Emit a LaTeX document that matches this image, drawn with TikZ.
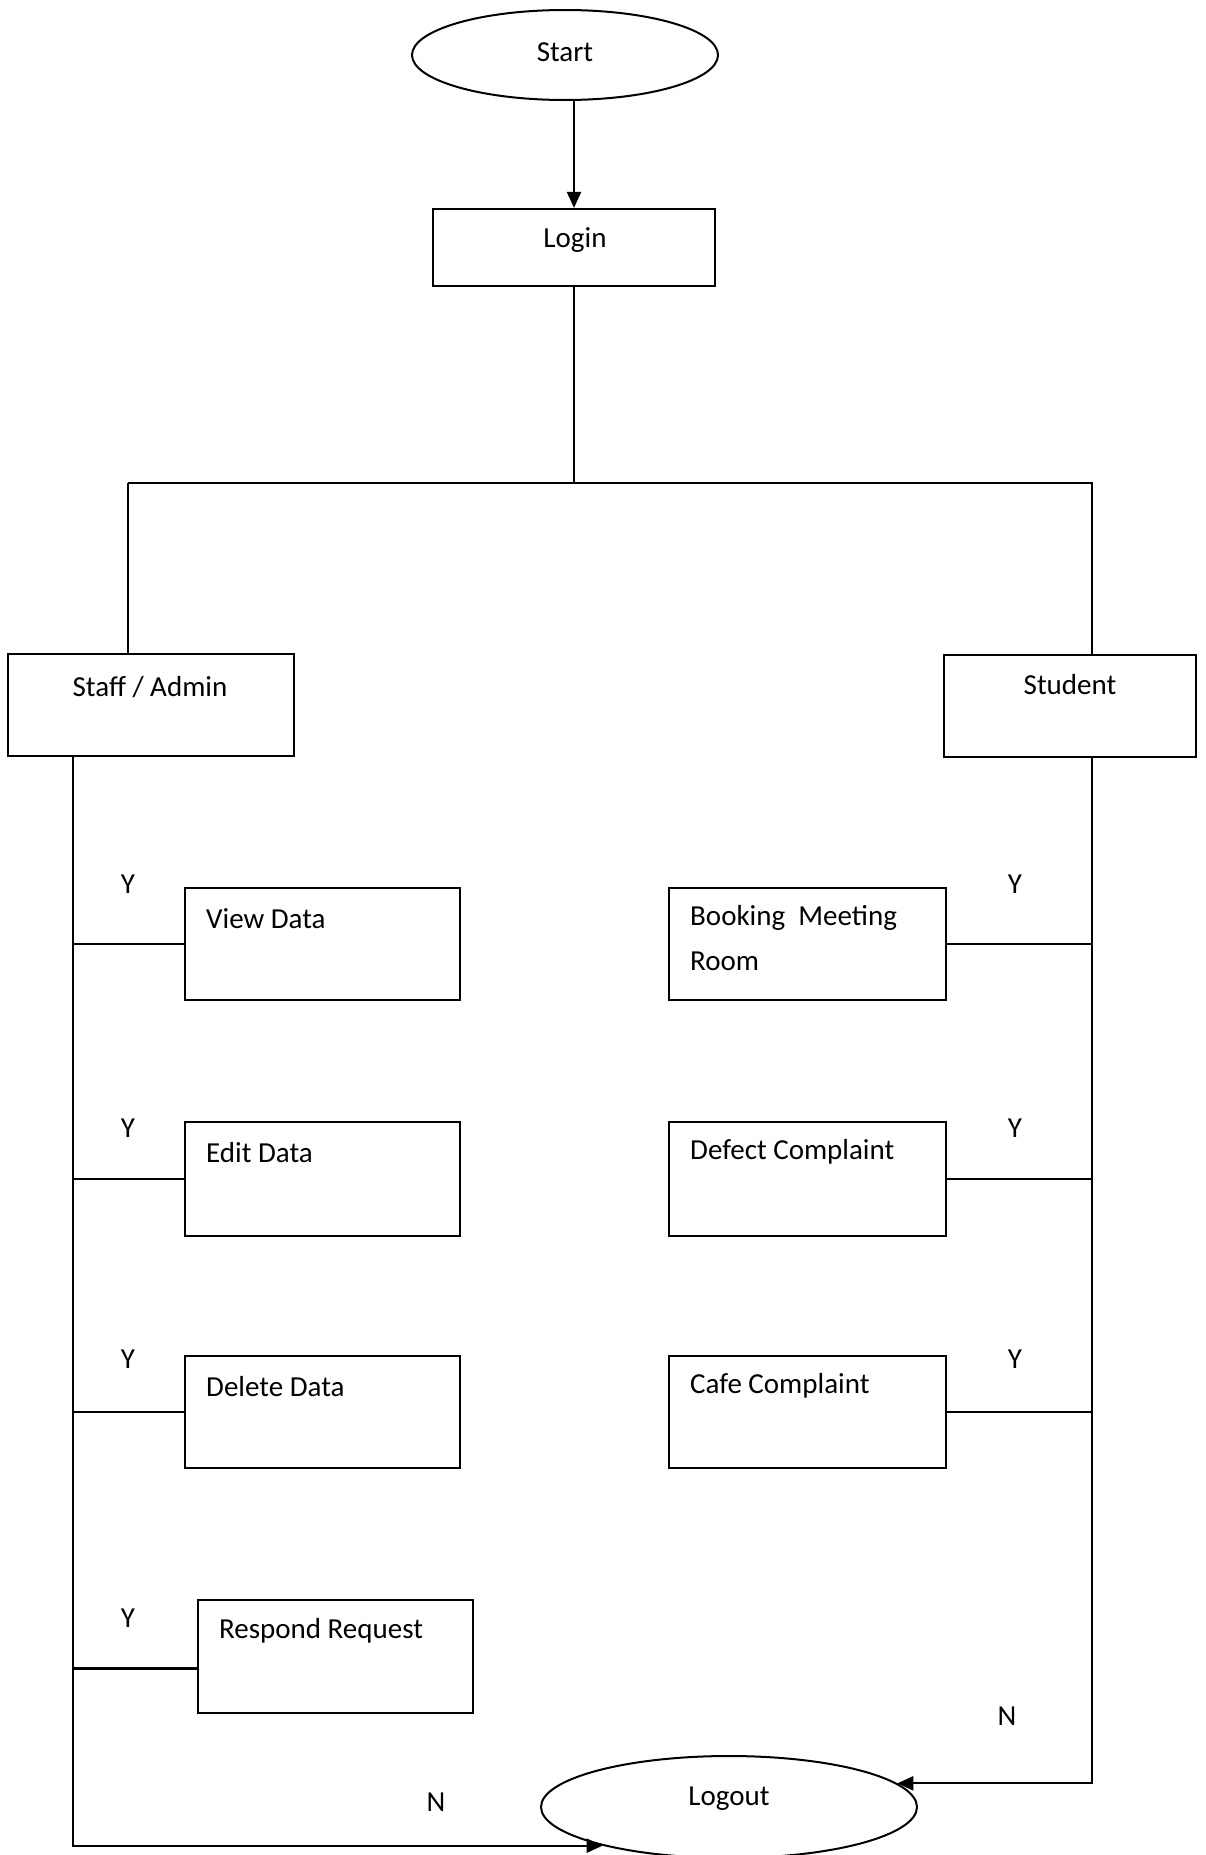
\documentclass[tikz,border=0pt]{standalone}
\usepackage{fontspec}
\setmainfont{Carlito}
\usetikzlibrary{arrows.meta,shapes.geometric}

\tikzset{
  flow/.style={line width=2.2pt, black},
  arr/.style={flow, -{Triangle[length=16pt,width=14pt]}},
  term/.style={draw, line width=2pt, ellipse, inner sep=0pt},
  box/.style={draw, line width=2.2pt, rectangle, inner sep=0pt},
  txt/.style={inner sep=0pt, font=\fontsize{29}{36}\selectfont},
  ltxt/.style={txt, anchor=west, align=left},
  yn/.style={txt}
}

\begin{document}
\begin{tikzpicture}[x=1pt, y=-1pt]
  \useasboundingbox (0,0) rectangle (1206,1855);
  \clip (0,0) rectangle (1206,1855);

  % terminators
  \node[term, minimum width=306, minimum height=90] (start) at (565,55) {};
  \node[txt] (startT) at (565,52) {Start};
  \node[term, minimum width=376, minimum height=102] (logout) at (729,1807) {};
  \node[txt] (logoutT) at (729,1799) {Logout};

  % login and the two user roles
  \node[box, minimum width=282, minimum height=77] (login) at (574,247.5) {};
  \node[txt] (loginT) at (575,240) {Login};
  \node[box, minimum width=286, minimum height=102] (staff) at (151,705) {};
  \node[txt] (staffT) at (150,687) {Staff / Admin};
  \node[box, minimum width=252, minimum height=102] (student) at (1070,706) {};
  \node[txt] (studentT) at (1070,685) {Student};

  % staff / admin actions
  \node[box, minimum width=275, minimum height=112] (view) at (322.5,944) {};
  \node[ltxt] (viewT) at (206,919) {View Data};
  \node[box, minimum width=275, minimum height=114] (edit) at (322.5,1179) {};
  \node[ltxt] (editT) at (206,1153) {Edit Data};
  \node[box, minimum width=275, minimum height=112] (delete) at (322.5,1412) {};
  \node[ltxt] (deleteT) at (206,1387) {Delete Data};
  \node[box, minimum width=275, minimum height=113] (respond) at (335.5,1656.5) {};
  \node[ltxt] (respondT) at (219,1631) {Respond Request};

  % student actions
  \node[box, minimum width=277, minimum height=112] (booking) at (807.5,944) {};
  \node[ltxt] (bookingT1) at (690,918) {Booking~~Meeting};
  \node[ltxt] (bookingT2) at (690,961) {Room};
  \node[box, minimum width=277, minimum height=114] (defect) at (807.5,1179) {};
  \node[ltxt] (defectT) at (690,1152) {Defect Complaint};
  \node[box, minimum width=277, minimum height=112] (cafe) at (807.5,1412) {};
  \node[ltxt] (cafeT) at (690,1386) {Cafe Complaint};

  % branch labels
  \node[yn] (y1) at (128,884) {Y};
  \node[yn] (y2) at (128,1128) {Y};
  \node[yn] (y3) at (128,1359) {Y};
  \node[yn] (y4) at (128,1618) {Y};
  \node[yn] (y5) at (1015,884) {Y};
  \node[yn] (y6) at (1015,1128) {Y};
  \node[yn] (y7) at (1015,1359) {Y};
  \node[yn] (nR) at (1007,1716) {N};
  \node[yn] (nL) at (436,1802) {N};

  % spine coordinates
  \coordinate (splitL) at (128,483);
  \coordinate (splitR) at (1093,483);
  \coordinate (spineL) at (73,756);
  \coordinate (spineR) at (1092,757);

  % start to login, login to the split
  \draw[arr] (login.north |- start.south) -- (login.north);
  \draw[flow] (login.south) -- (login.south |- splitL);
  \draw[flow] (splitL) -- (splitR);
  \draw[flow] (splitL) -- (staff.north -| splitL);
  \draw[flow] (splitR -| spineR) -- (student.north -| spineR);

  % staff / admin branch
  \draw[arr] (spineL) |- (logout.197);
  \draw[flow] (view.west) -- (view.west -| spineL);
  \draw[flow] (edit.west) -- (edit.west -| spineL);
  \draw[flow] (delete.west) -- (delete.west -| spineL);
  \draw[flow] ([yshift=-12]respond.west) -- ([yshift=-12]respond.west -| spineL);

  % student branch
  \draw[arr] (spineR) |- (logout.8);
  \draw[flow] (booking.east) -- (booking.east -| spineR);
  \draw[flow] (defect.east) -- (defect.east -| spineR);
  \draw[flow] (cafe.east) -- (cafe.east -| spineR);
\end{tikzpicture}
\end{document}
